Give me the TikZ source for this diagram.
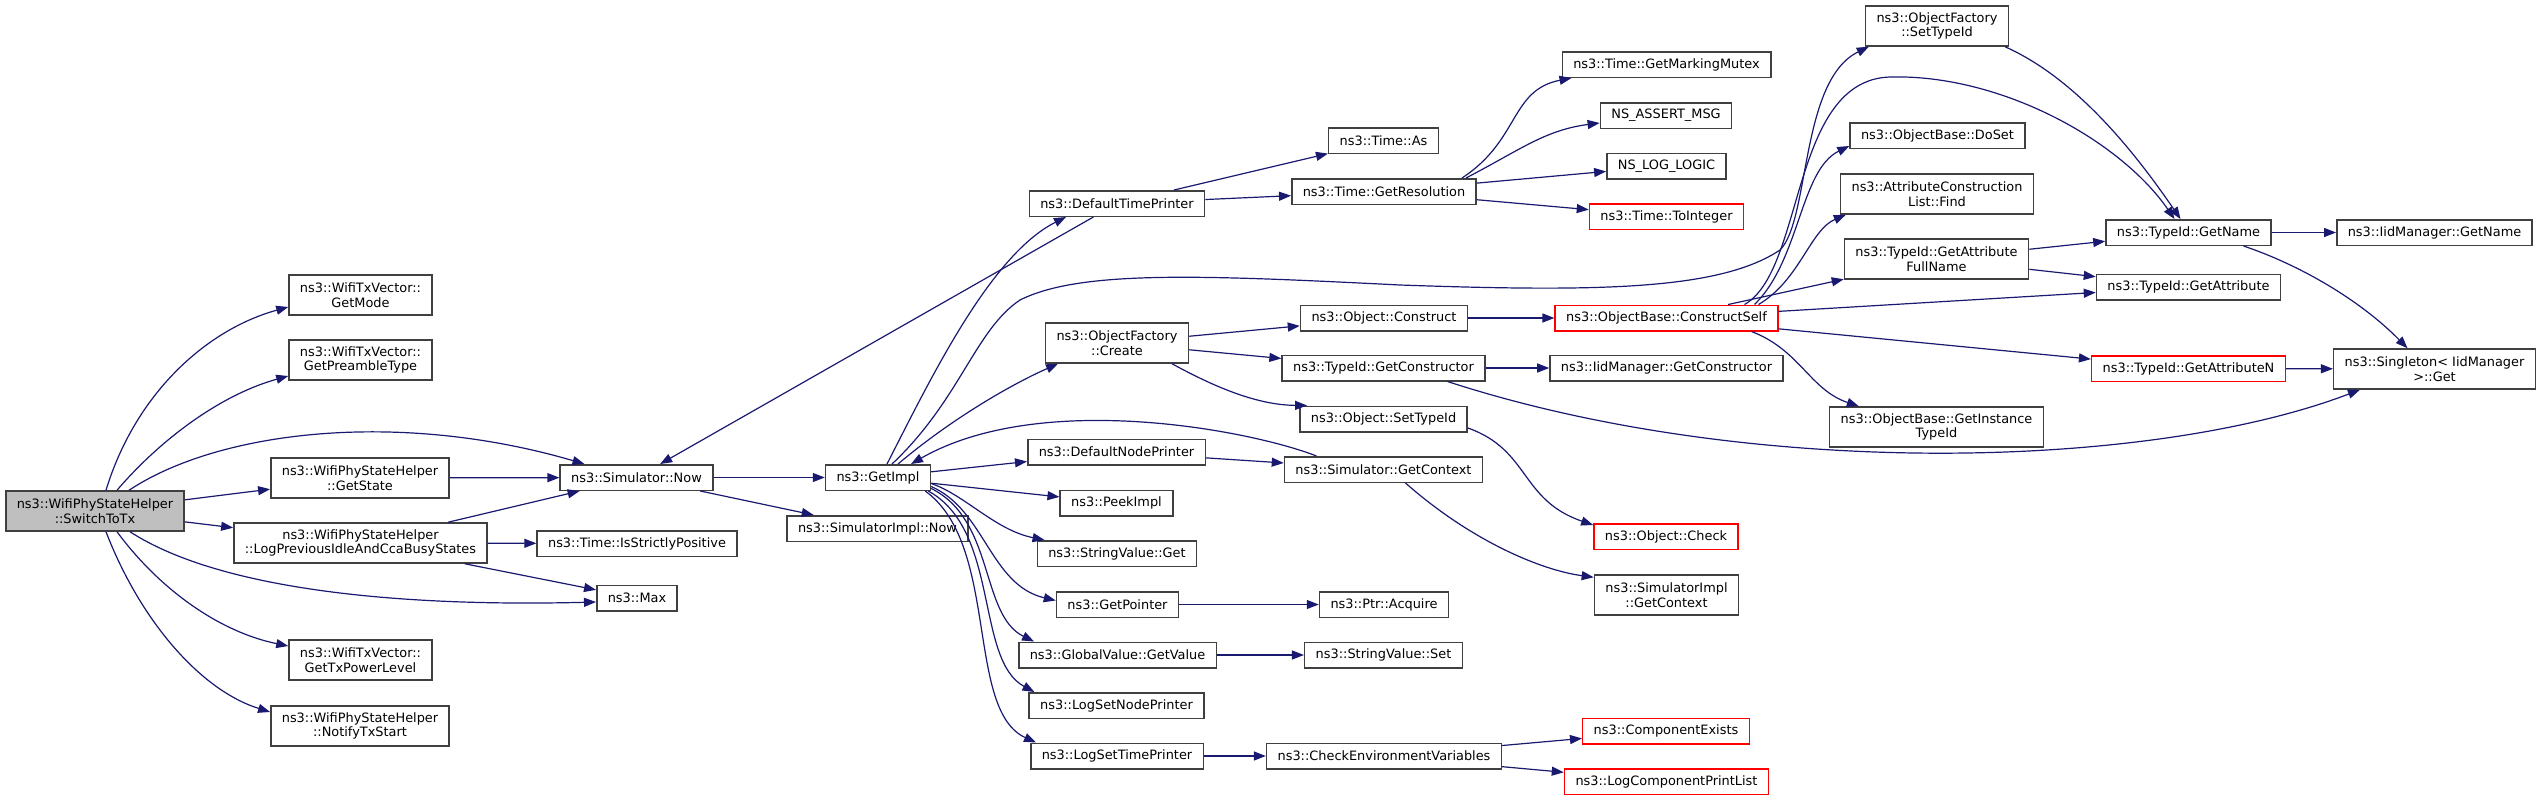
\documentclass[tikz,border=0pt]{standalone}
\usepackage{fontspec}
\setmainfont{DejaVu Sans}
\usetikzlibrary{arrows.meta}
\definecolor{edgeblue}{HTML}{191970}
\definecolor{boxgray}{HTML}{404040}
\definecolor{callerfill}{HTML}{BFBFBF}
\definecolor{missred}{HTML}{FF0000}

\begin{document}
\begin{tikzpicture}[x=1pt, y=-1pt,
    fn/.style={draw=boxgray, line width=1.5pt, rectangle, fill=white, align=center,
        inner xsep=11pt, inner ysep=1pt, minimum height=25.5pt,
        font=\fontsize{12.9}{14.7}\selectfont},
    fntwo/.style={fn, minimum height=40pt},
    miss/.style={draw=missred},
    link/.style={->, draw=edgeblue, line width=1.2pt},
    >={Triangle[length=12pt, width=9pt]}]
    \useasboundingbox (0,0) rectangle (2541,801);

    % Nodes
    \node[fntwo, fill=callerfill] (sw) at (95,511) {ns3::WifiPhyStateHelper\\::SwitchToTx};
    \node[fntwo] (gmode) at (360.5,295) {ns3::WifiTxVector::\\GetMode};
    \node[fntwo] (gpre) at (360.5,360) {ns3::WifiTxVector::\\GetPreambleType};
    \node[fntwo] (gstate) at (360,478) {ns3::WifiPhyStateHelper\\::GetState};
    \node[fntwo] (logprev) at (360.5,543) {ns3::WifiPhyStateHelper\\::LogPreviousIdleAndCcaBusyStates};
    \node[fntwo] (gtxp) at (360.5,660) {ns3::WifiTxVector::\\GetTxPowerLevel};
    \node[fntwo] (notify) at (360,726) {ns3::WifiPhyStateHelper\\::NotifyTxStart};
    \node[fn] (now) at (636.5,477.5) {ns3::Simulator::Now};
    \node[fn] (strict) at (637,543.5) {ns3::Time::IsStrictlyPositive};
    \node[fn] (max) at (637,598) {ns3::Max};
    \node[fn] (getimpl) at (878,477.5) {ns3::GetImpl};
    \node[fn] (implnow) at (877.5,528.5) {ns3::SimulatorImpl::Now};
    \node[fn] (dtp) at (1117,203.5) {ns3::DefaultTimePrinter};
    \node[fntwo] (create) at (1117,343) {ns3::ObjectFactory\\::Create};
    \node[fn] (dnp) at (1116.5,452) {ns3::DefaultNodePrinter};
    \node[fn] (peek) at (1116.5,503) {ns3::PeekImpl};
    \node[fn] (svget) at (1117,553.5) {ns3::StringValue::Get};
    \node[fn] (getptr) at (1117.5,604.5) {ns3::GetPointer};
    \node[fn] (gvget) at (1117.5,655) {ns3::GlobalValue::GetValue};
    \node[fn] (lsnp) at (1116.5,705.5) {ns3::LogSetNodePrinter};
    \node[fn] (lstp) at (1117,756) {ns3::LogSetTimePrinter};
    \node[fn] (timeas) at (1383.5,140.5) {ns3::Time::As};
    \node[fn] (getres) at (1384,191.5) {ns3::Time::GetResolution};
    \node[fn] (construct) at (1384,318) {ns3::Object::Construct};
    \node[fn] (getctor) at (1383.5,368) {ns3::TypeId::GetConstructor};
    \node[fn] (osettid) at (1383.5,419) {ns3::Object::SetTypeId};
    \node[fn] (simctx) at (1383.5,469.5) {ns3::Simulator::GetContext};
    \node[fn] (acquire) at (1384,604.5) {ns3::Ptr::Acquire};
    \node[fn] (svset) at (1383.5,655) {ns3::StringValue::Set};
    \node[fn] (checkenv) at (1384,756) {ns3::CheckEnvironmentVariables};
    \node[fn] (mutex) at (1666.5,64.5) {ns3::Time::GetMarkingMutex};
    \node[fn] (assertmsg) at (1666,115.5) {NS\_ASSERT\_MSG};
    \node[fn] (loglogic) at (1666.5,166) {NS\_LOG\_LOGIC};
    \node[fn, miss] (toint) at (1666.5,216.5) {ns3::Time::ToInteger};
    \node[fn, miss] (cself) at (1666.5,318) {ns3::ObjectBase::ConstructSelf};
    \node[fn] (iidctor) at (1666.5,368) {ns3::IidManager::GetConstructor};
    \node[fn, miss] (ocheck) at (1666,536.5) {ns3::Object::Check};
    \node[fntwo] (implctx) at (1666.5,595) {ns3::SimulatorImpl\\::GetContext};
    \node[fn, miss] (compex) at (1666,731) {ns3::ComponentExists};
    \node[fn, miss] (logcpl) at (1666.5,781.5) {ns3::LogComponentPrintList};
    \node[fntwo] (ofsettid) at (1937,26) {ns3::ObjectFactory\\::SetTypeId};
    \node[fn] (doset) at (1937.5,135.5) {ns3::ObjectBase::DoSet};
    \node[fntwo] (acfind) at (1937,194) {ns3::AttributeConstruction\\List::Find};
    \node[fntwo] (fullname) at (1936.5,259) {ns3::TypeId::GetAttribute\\FullName};
    \node[fntwo] (instid) at (1936.5,427) {ns3::ObjectBase::GetInstance\\TypeId};
    \node[fn] (getname) at (2188.5,232.5) {ns3::TypeId::GetName};
    \node[fn] (getattr) at (2188.5,287) {ns3::TypeId::GetAttribute};
    \node[fn, miss] (getattrn) at (2188.5,368.5) {ns3::TypeId::GetAttributeN};
    \node[fn] (iidname) at (2434.5,232.5) {ns3::IidManager::GetName};
    \node[fntwo] (singleton) at (2434.5,369) {ns3::Singleton< IidManager\\>::Get};

    % Arrows
    \draw[link] ([xshift=11pt]sw.north) .. controls (135,395) and (205,330) .. ([yshift=-12pt]gmode.west);
    \draw[link] ([xshift=22pt]sw.north) .. controls (160,440) and (220,395) .. ([yshift=-16pt]gpre.west);
    \draw[link] ([xshift=34pt]sw.north) .. controls (220,430) and (400,410) .. ([xshift=-52pt]now.north);
    \draw[link] (sw) -- (gstate);
    \draw[link] (sw) -- (logprev);
    \draw[link] ([xshift=35pt]sw.south) .. controls (220,590) and (400,607) .. ([yshift=-4pt]max.west);
    \draw[link] ([xshift=22pt]sw.south) .. controls (160,590) and (220,632) .. ([yshift=14pt]gtxp.west);
    \draw[link] ([xshift=11pt]sw.south) .. controls (140,620) and (200,690) .. ([yshift=14pt]notify.west);
    \draw[link] (gstate) -- (now);
    \draw[link] (logprev) -- (now);
    \draw[link] (logprev) -- (strict);
    \draw[link] (logprev) -- (max);
    \draw[link] (now) -- (getimpl);
    \draw[link] (now) -- (implnow);
    \draw[link] (dtp) -- (now);
    \draw[link] ([xshift=9pt]getimpl.north) .. controls (930,380) and (990,255) .. ([xshift=-51pt]dtp.south);
    \draw[link] ([xshift=20pt]getimpl.north) .. controls (950,420) and (1010,385) .. ([xshift=-59pt]create.south);
    \draw[link] ([xshift=14pt]getimpl.north) .. controls (960,400) and (975,330) .. (1020,300)
        .. controls (1080,270) and (1200,275) .. (1400,285)
        .. controls (1600,292) and (1720,290) .. (1780,250)
        .. controls (1810,220) and (1800,80) .. ([xshift=4pt]ofsettid.south west);
    \draw[link] ([xshift=-67pt]simctx.north) .. controls (1250,430) and (1040,390) .. ([xshift=33pt]getimpl.north);
    \draw[link] (getimpl) -- (dnp);
    \draw[link] (getimpl) -- (peek);
    \draw[link] ([yshift=-6pt]getimpl.east) .. controls (965,495) and (995,530) .. ([xshift=8pt]svget.north west);
    \draw[link] ([yshift=-9pt]getimpl.east) .. controls (985,510) and (990,585) .. ([yshift=4pt]getptr.west);
    \draw[link] ([yshift=-11pt]getimpl.east) .. controls (995,520) and (980,615) .. ([xshift=16pt]gvget.north west);
    \draw[link] ([xshift=-3pt]getimpl.south east) .. controls (1000,530) and (975,660) .. ([xshift=6pt]lsnp.north west);
    \draw[link] ([xshift=-6pt]getimpl.south east) .. controls (1000,545) and (965,710) .. ([xshift=6pt]lstp.north west);
    \draw[link] (dnp) -- (simctx);
    \draw[link] ([xshift=22pt]simctx.south) .. controls (1470,540) and (1540,570) .. ([yshift=-3pt]implctx.north west);
    \draw[link] (getptr) -- (acquire);
    \draw[link] (gvget) -- (svset);
    \draw[link] (lstp) -- (checkenv);
    \draw[link] (checkenv) -- (compex);
    \draw[link] (checkenv) -- (logcpl);
    \draw[link] (create) -- (construct);
    \draw[link] (create) -- (getctor);
    \draw[link] ([xshift=55pt]create.south) .. controls (1220,390) and (1260,405) .. ([xshift=8pt]osettid.north west);
    \draw[link] (construct) -- (cself);
    \draw[link] (getctor) -- (iidctor);
    \draw[link] ([xshift=64pt]getctor.south) .. controls (1750,480) and (2150,470) .. ([xshift=27pt]singleton.south west);
    \draw[link] ([yshift=-9pt]osettid.east) .. controls (1530,450) and (1520,500) .. ([yshift=-2pt]ocheck.north west);
    \draw[link] (dtp) -- (timeas);
    \draw[link] (dtp) -- (getres);
    \draw[link] ([xshift=78pt]getres.north) .. controls (1520,140) and (1510,90) .. ([xshift=10pt]mutex.south west);
    \draw[link] ([xshift=82pt]getres.north) .. controls (1520,150) and (1545,130) .. ([yshift=-7.5pt]assertmsg.west);
    \draw[link] (getres) -- (loglogic);
    \draw[link] (getres) -- (toint);
    \draw[link] ([xshift=78pt]cself.north) .. controls (1805,270) and (1790,80) .. (1890,77)
        .. controls (2000,74) and (2120,140) .. ([xshift=-14pt]getname.north);
    \draw[link] ([xshift=88pt]cself.north) .. controls (1800,260) and (1800,170) .. ([yshift=3pt]doset.south west);
    \draw[link] ([xshift=92pt]cself.north) .. controls (1800,280) and (1810,230) .. ([xshift=6pt]acfind.south west);
    \draw[link] (cself) -- (fullname);
    \draw[link] (cself) -- (getattr);
    \draw[link] (cself) -- (getattrn);
    \draw[link] ([xshift=85pt]cself.south) .. controls (1800,350) and (1810,390) .. ([xshift=30pt]instid.north west);
    \draw[link] ([xshift=68pt]ofsettid.south) .. controls (2080,80) and (2140,160) .. ([xshift=-8pt]getname.north);
    \draw[link] (fullname) -- (getname);
    \draw[link] (fullname) -- (getattr);
    \draw[link] (getname) -- (iidname);
    \draw[link] ([xshift=55pt]getname.south) .. controls (2300,265) and (2360,300) .. ([xshift=-27pt]singleton.north);
    \draw[link] (getattrn) -- (singleton);
\end{tikzpicture}
\end{document}
